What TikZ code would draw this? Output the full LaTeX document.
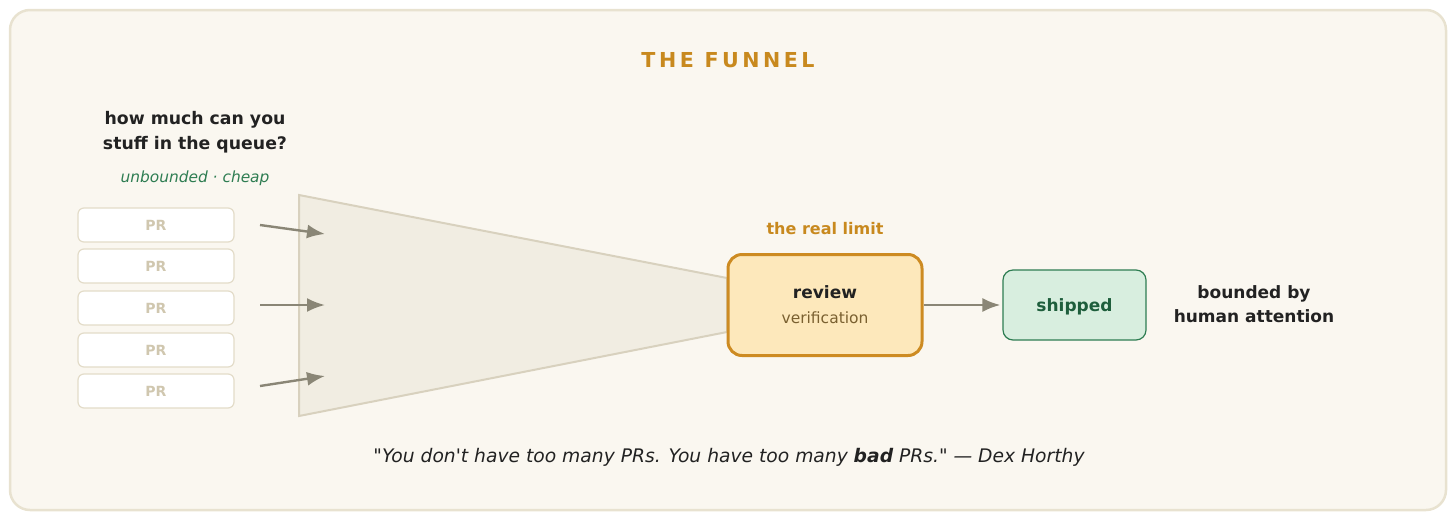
\documentclass[tikz,border=0pt]{standalone}
\usepackage{fontspec}
\setmainfont{DejaVu Sans}
\newfontfamily\titlefont[LetterSpace=17]{DejaVu Sans}
\newfontfamily\quotefont{DejaVu Sans}
\usetikzlibrary{arrows.meta}
\definecolor{paper}{HTML}{FAF7F0}
\definecolor{paperline}{HTML}{E8E2D0}
\definecolor{ocre}{HTML}{C8891E}
\definecolor{ink}{HTML}{222222}
\definecolor{leaf}{HTML}{2E7D52}
\definecolor{prline}{HTML}{E3DCC9}
\definecolor{prtext}{HTML}{D0C7AF}
\definecolor{funfill}{HTML}{F1EDE2}
\definecolor{funline}{HTML}{D8D1BE}
\definecolor{arrowgrey}{HTML}{8A8676}
\definecolor{revfill}{HTML}{FDE8BB}
\definecolor{revline}{HTML}{CD8B22}
\definecolor{revtext}{HTML}{7A6030}
\definecolor{shipfill}{HTML}{D8EEDF}
\definecolor{shiptext}{HTML}{1E5E3C}

\begin{document}
\begin{tikzpicture}[x=1pt,y=-1pt,
  prbox/.style={draw=prline,fill=white,rounded corners=6pt,line width=1.2pt,
    minimum width=156pt,minimum height=34pt,text=prtext,
    font=\fontsize{14}{15}\selectfont\bfseries},
  feed/.style={draw=arrowgrey,line width=2.4pt,-{Latex[length=18pt,width=14pt]}},
  headtext/.style={text=ink,align=center,font=\fontsize{17.3}{25}\selectfont\bfseries}]
\useasboundingbox (0,0) rectangle (1456,520);
\draw [paperline,fill=paper,line width=2.5pt,rounded corners=20pt] (10,10) rectangle (1446,510);
\node [text=ocre,font=\fontsize{20.6}{24}\selectfont\titlefont\bfseries] (title) at (728,60) {THE FUNNEL};
\node [headtext] (ask) at (195,132) {how much can you\\stuff in the queue?};
\node [text=leaf,font=\fontsize{15.4}{18}\selectfont\itshape] (cheap) at (195,178) {unbounded · cheap};
\node [prbox] (pr1) at (156,225) {PR};
\node [prbox] (pr2) at (156,266) {PR};
\node [prbox] (pr3) at (156,308) {PR};
\node [prbox] (pr4) at (156,350) {PR};
\node [prbox] (pr5) at (156,391) {PR};
\draw [funline,fill=funfill,line width=2pt] (299,195) -- (727,278) -- (727,332) -- (299,416) -- cycle;
\coordinate (in1) at (260,225);
\coordinate (in2) at (260,305);
\coordinate (in3) at (260,386);
\coordinate (mouth1) at (325,234);
\coordinate (mouth2) at (325,305);
\coordinate (mouth3) at (325,376);
\draw [feed] (in1) -- (mouth1);
\draw [feed] (in2) -- (mouth2);
\draw [feed] (in3) -- (mouth3);
\node [text=ocre,font=\fontsize{16}{18}\selectfont\bfseries] (limit) at (825,229) {the real limit};
\node [draw=revline,fill=revfill,line width=3pt,rounded corners=14pt,minimum width=194pt,
  minimum height=101pt,align=center,text=ink] (review) at (825,305)
  {{\fontsize{17}{20}\selectfont\bfseries review}\\[12pt]{\color{revtext}\fontsize{15.5}{18}\selectfont verification}};
\node [draw=leaf,fill=shipfill,line width=1.2pt,rounded corners=10pt,minimum width=143pt,
  minimum height=70pt,text depth=0pt,text=shiptext,font=\fontsize{17}{20}\selectfont\bfseries] (shipped) at (1074.5,305) {shipped};
\draw [feed,shorten >=2pt] (review.east) -- (shipped.west);
\node [headtext,font=\fontsize{17}{24}\selectfont\bfseries] (human) at (1254,304) {bounded by\\human attention};
\node [text=ink,font=\fontsize{18.7}{22}\selectfont\quotefont\itshape] (quote) at (729,457)
  {"You don't have too many PRs. You have too many {\bfseries bad} PRs." — Dex Horthy};
\end{tikzpicture}
\end{document}
